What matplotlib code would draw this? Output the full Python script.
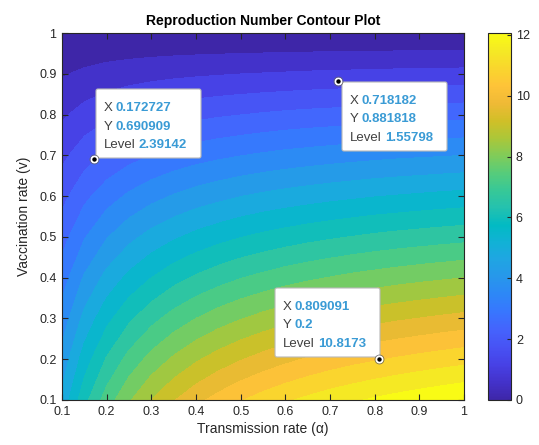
import numpy as np
import matplotlib.pyplot as plt
from matplotlib.colors import LinearSegmentedColormap, Normalize
from matplotlib.cm import ScalarMappable
from matplotlib.patches import FancyBboxPatch
from matplotlib.transforms import IdentityTransform

plt.rcParams['font.family'] = ['Liberation Sans', 'DejaVu Sans']

# grid: transmission rate (columns) and vaccination rate (rows)
alpha = [0.10, 0.15, 0.20, 0.25, 0.30, 0.35, 0.40, 0.45, 0.50, 0.55,
         0.60, 0.65, 0.70, 0.75, 0.80, 0.85, 0.90, 0.95, 1.00]
v = [0.1, 0.2, 0.3, 0.4, 0.5, 0.6, 0.7, 0.8, 0.9, 1.0]

R = [
    [4.99, 6.43, 7.52, 8.37, 9.05, 9.61, 10.08, 10.47, 10.81, 11.11, 11.37, 11.59, 11.80, 11.98, 12.14, 12.29, 12.42, 12.55, 12.66],
    [4.43, 5.72, 6.69, 7.44, 8.05, 8.54, 8.96, 9.31, 9.61, 9.87, 10.10, 10.31, 10.49, 10.65, 10.79, 10.92, 11.04, 11.15, 11.25],
    [3.88, 5.00, 5.85, 6.51, 7.04, 7.48, 7.84, 8.15, 8.41, 8.64, 8.84, 9.02, 9.17, 9.32, 9.44, 9.56, 9.66, 9.76, 9.85],
    [3.33, 4.29, 5.01, 5.58, 6.03, 6.41, 6.72, 6.98, 7.21, 7.40, 7.58, 7.73, 7.86, 7.99, 8.09, 8.19, 8.28, 8.36, 8.44],
    [2.77, 3.57, 4.18, 4.65, 5.03, 5.34, 5.60, 5.82, 6.01, 6.17, 6.31, 6.44, 6.55, 6.65, 6.75, 6.83, 6.90, 6.97, 7.03],
    [2.22, 2.86, 3.34, 3.72, 4.02, 4.27, 4.48, 4.65, 4.81, 4.94, 5.05, 5.15, 5.24, 5.32, 5.40, 5.46, 5.52, 5.58, 5.63],
    [1.66, 2.14, 2.51, 2.79, 3.02, 3.20, 3.36, 3.49, 3.60, 3.70, 3.79, 3.86, 3.93, 3.99, 4.05, 4.10, 4.14, 4.18, 4.22],
    [1.11, 1.43, 1.67, 1.86, 2.01, 2.14, 2.24, 2.33, 2.40, 2.47, 2.53, 2.58, 2.62, 2.66, 2.70, 2.73, 2.76, 2.79, 2.81],
    [0.55, 0.71, 0.84, 0.93, 1.01, 1.07, 1.12, 1.16, 1.20, 1.23, 1.26, 1.29, 1.31, 1.33, 1.35, 1.37, 1.38, 1.39, 1.41],
    [0.00] * 19,
]

# data tips shown on the plot
tip_x = [0.172727, 0.718182, 0.809091]
tip_y = [0.690909, 0.881818, 0.2]
tip_level = [2.39142, 1.55798, 10.8173]

# parula-like colormap
parula = [
    (0.2422, 0.1504, 0.6603), (0.2647, 0.1978, 0.7952), (0.2783, 0.2559, 0.8991),
    (0.2810, 0.3228, 0.9579), (0.2699, 0.3892, 0.9906), (0.2206, 0.4603, 0.9973),
    (0.1786, 0.5289, 0.9682), (0.1540, 0.5902, 0.9218), (0.1248, 0.6459, 0.8883),
    (0.0689, 0.6948, 0.8394), (0.0067, 0.7312, 0.7660), (0.1408, 0.7584, 0.6842),
    (0.2161, 0.7843, 0.5923), (0.3406, 0.8008, 0.4789), (0.5044, 0.7993, 0.3480),
    (0.6720, 0.7793, 0.2227), (0.8203, 0.7498, 0.1535), (0.9393, 0.7288, 0.2100),
    (0.9970, 0.7659, 0.2199), (0.9786, 0.8386, 0.1766), (0.9597, 0.9135, 0.1423),
    (0.9769, 0.9839, 0.0805)]
cmap = LinearSegmentedColormap.from_list('parula', parula, N=256)

axis_col = '#262626'
levels = np.linspace(0, 12.06, 21)
norm = Normalize(0, levels[-1])
edges = list(levels) + [20]
band_colors = [cmap(norm(l)) for l in levels]

fig = plt.figure(figsize=(5.39, 4.45), dpi=100)
ax = fig.add_axes([62 / 539, 45 / 445, 402 / 539, 367 / 445])
cax = fig.add_axes([488 / 539, 45 / 445, 23 / 539, 367 / 445])

ax.contourf(alpha, v, R, levels=edges, colors=band_colors)
ax.set_xlim(0.1, 1)
ax.set_ylim(0.1, 1)
ticks = np.arange(0.1, 1.01, 0.1)
ax.set_xticks(ticks)
ax.set_yticks(ticks)
ax.set_xticklabels(['%g' % round(t, 1) for t in ticks])
ax.set_yticklabels(['%g' % round(t, 1) for t in ticks])
ax.tick_params(direction='in', top=True, right=True, length=4, width=0.8,
               colors=axis_col, labelsize=9, pad=4)
for s in ax.spines.values():
    s.set_color(axis_col)
    s.set_linewidth(0.8)

ax.set_title('Reproduction Number Contour Plot', fontsize=10, fontweight='bold',
             color='black', pad=6)
ax.set_xlabel('Transmission rate (α)', fontsize=10, color=axis_col, labelpad=3)
ax.set_ylabel('Vaccination rate (v)', fontsize=10, color=axis_col, labelpad=6)

cb = fig.colorbar(ScalarMappable(norm=norm, cmap=cmap), cax=cax, ticks=range(0, 13, 2))
cb.outline.set_edgecolor(axis_col)
cb.outline.set_linewidth(0.8)
cax.tick_params(direction='in', length=3, width=0.8, colors=axis_col, labelsize=9)

# data tips
box_w, box_h = 105, 69
offsets = [(2, 1), (4, -70), (-104, 2)]
for x, y, lev, (dx, dy) in zip(tip_x, tip_y, tip_level, offsets):
    px, py = ax.transData.transform((x, y))
    bx, by = round(px + dx), round(py + dy)
    box = FancyBboxPatch((bx, by), box_w, box_h, boxstyle='round,pad=0,rounding_size=2',
                         fc='white', ec='#b8b8b8', lw=0.8, transform=IdentityTransform(),
                         zorder=5, clip_on=False)
    ax.add_artist(box)
    rows = [('X', x), ('Y', y), ('Level', lev)]
    for i, (lab, val) in enumerate(rows):
        t = ax.text(bx + 8, by + box_h - 22 - i * 18.5, lab, transform=IdentityTransform(),
                    fontsize=9.5, color='#404040', va='baseline', zorder=6)
        ax.annotate('%g' % val, xy=(1, 0), xycoords=t, xytext=(3, 0),
                    textcoords='offset pixels', va='bottom', ha='left',
                    fontsize=9.5, fontweight='bold', color='#3a9bd5', zorder=6)
ax.plot(tip_x, tip_y, 'o', ms=4.5, mfc='black', mec='white', mew=1.3, zorder=7)
ax.plot(tip_x, tip_y, 'o', ms=6.5, mfc='none', mec='#666666', mew=0.5, zorder=7)

fig.savefig('out.png', dpi=100)
